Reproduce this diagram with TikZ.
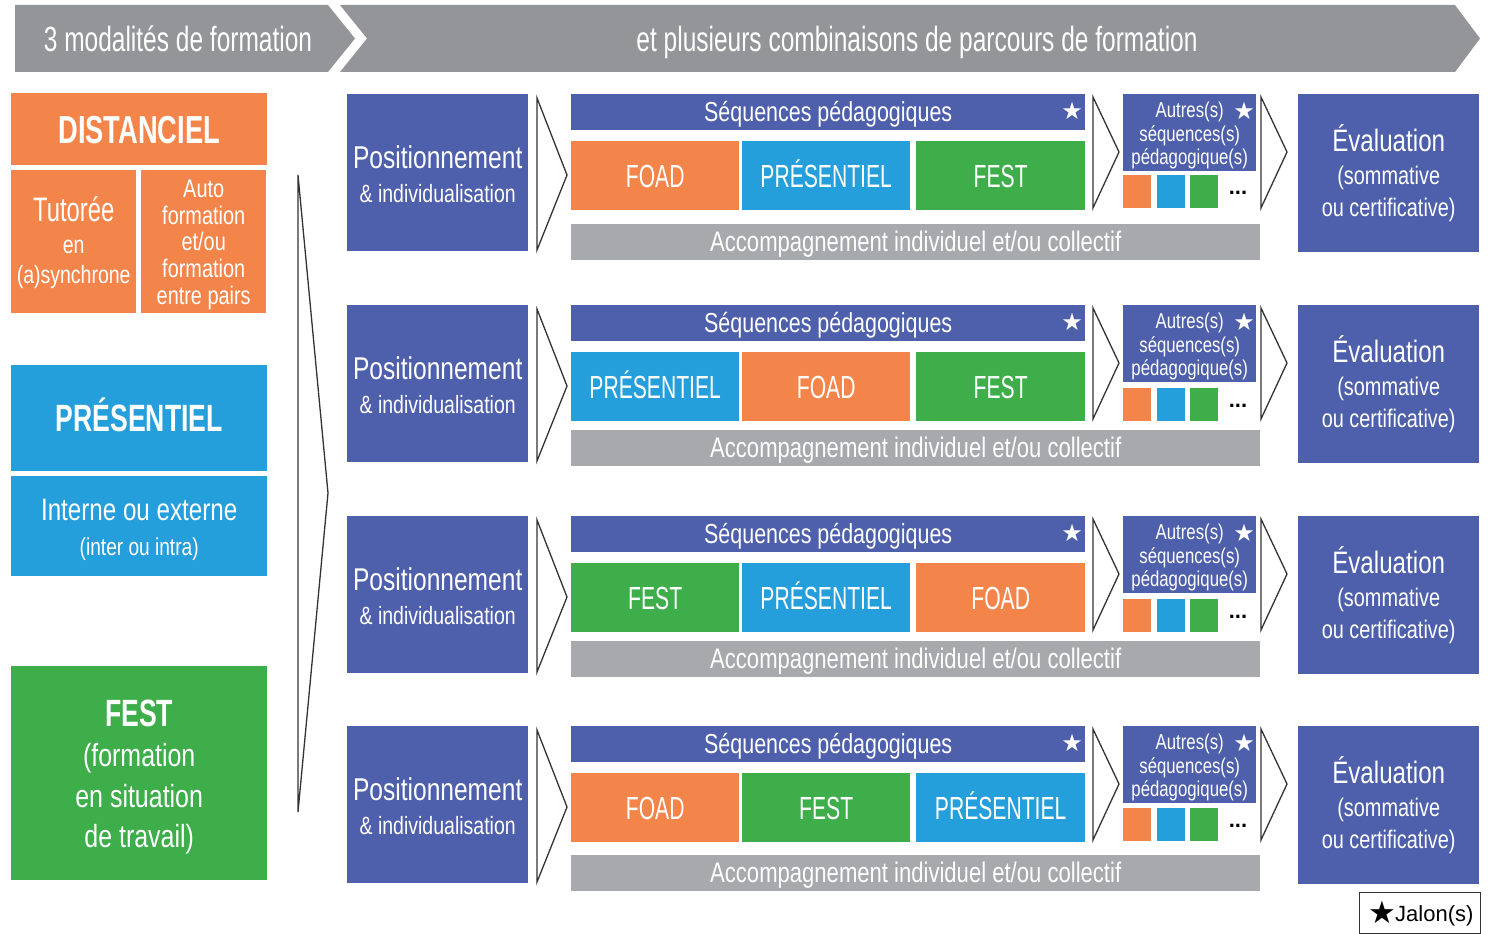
\documentclass[tikz,border=0pt]{standalone}
\usepackage{fontspec}
\setmainfont{Liberation Sans}[FakeStretch=0.78]
\newfontfamily\nrw{Liberation Sans}[FakeStretch=0.70]
\newfontfamily\capf{Liberation Sans}[FakeStretch=0.66]
\newfontfamily\plainf{Liberation Sans}
\newfontfamily\symf{DejaVu Sans}
\definecolor{cOr}{HTML}{F4854A}
\definecolor{cBl}{HTML}{259FDB}
\definecolor{cGr}{HTML}{3DAE4A}
\definecolor{cPu}{HTML}{4E5FAB}
\definecolor{cAc}{HTML}{A7A9AC}
\definecolor{cBan}{HTML}{939598}
\definecolor{cLine}{HTML}{333333}
\newcommand{\fsz}[2]{\fontsize{#1}{#2}\selectfont}
\tikzset{
  box/.style={anchor=north west, inner sep=0pt, text=white, align=center},
  txt/.style={inner sep=0pt, text=white, align=center},
  chev/.style={draw=cLine, line width=1.3pt, line join=miter},
}
\begin{document}
\begin{tikzpicture}[x=1pt,y=-1pt]
\useasboundingbox (0,0) rectangle (1494,934);
% banner
\fill[cBan] (15,5) -- (328,5) -- (355,38.5) -- (328,72) -- (15,72) -- cycle;
\fill[cBan] (340,5) -- (1455,5) -- (1480,38.5) -- (1455,72) -- (340,72) -- (367,38.5) -- cycle;
\node[txt, font=\nrw\fsz{35}{40}, text height=25pt, text depth=0pt] (ban1) at (178,39.5) {3 modalités de formation};
\node[txt, font=\nrw\fsz{35}{40}, text height=25pt, text depth=0pt] (ban2) at (917,39.5) {et plusieurs combinaisons de parcours de formation};
% left column
\node[box, fill=cOr, minimum width=256pt, minimum height=72pt, font=\nrw\bfseries\fsz{39}{40}, text height=28pt, text depth=0pt] (dist) at (11,93) {DISTANCIEL};
\node[box, fill=cOr, minimum width=125pt, minimum height=143pt] (tut) at (11,170) {};
\node[txt, font=\fsz{25}{33}] (tutT) at ([yshift=-1pt]tut.center) {{\nrw\fsz{34}{33}Tutorée}\\[-1pt]en\\[-3pt](a)synchrone};
\node[box, fill=cOr, minimum width=125pt, minimum height=143pt] (auto) at (141,170) {};
\node[txt, font=\fsz{25.5}{26.8}] (autoT) at ([yshift=-3pt]auto.center) {Auto\\formation\\et/ou\\formation\\entre pairs};
\node[box, fill=cBl, minimum width=256pt, minimum height=106pt, font=\nrw\bfseries\fsz{38}{40}, text height=27.5pt, text depth=0pt] (pres) at (11,365) {PRÉSENTIEL};
\node[box, fill=cBl, minimum width=256pt, minimum height=100pt] (int) at (11,476) {};
\node[txt, font=\fsz{24.5}{35}] (intT) at ([yshift=-4pt]int.center) {{\fsz{31}{35}Interne ou externe}\\(inter ou intra)};
\node[box, fill=cGr, minimum width=256pt, minimum height=214pt] (fest) at (11,666) {};
\node[txt, font=\fsz{32}{40.5}] (festT) at ([yshift=-4pt]fest.center) {{\nrw\bfseries\fsz{38}{40.5}FEST}\\(formation\\en situation\\de travail)};
% big chevron
\draw[chev] (298,175) -- (328,493) -- (298,812) -- cycle;
% rows
\foreach \r/\o/\ac/\sq/\la/\lb/\lc/\ca/\cb/\cc in {
  1/0/224/175/FOAD/PRÉSENTIEL/FEST/cOr/cBl/cGr,
  2/211/430/388/PRÉSENTIEL/FOAD/FEST/cBl/cOr/cGr,
  3/422/641/599/FEST/PRÉSENTIEL/FOAD/cGr/cBl/cOr,
  4/632/855/808/FOAD/FEST/PRÉSENTIEL/cOr/cGr/cBl}{
  \node[box, fill=cPu, minimum width=181pt, minimum height=157pt] (pos\r) at (347,94+\o) {};
  \node[txt, font=\fsz{25}{34}] (posT\r) at ([yshift=-1.5pt]pos\r.center) {{\fsz{31.5}{34}Positionnement}\\\& individualisation};
  \draw[chev] (537,98+\o) -- (567,175+\o) -- (537,250+\o) -- cycle;
  \node[box, fill=cPu, minimum width=514pt, minimum height=36pt, font=\fsz{27.5}{30}, text height=19.5pt, text depth=0pt] (seq\r) at (571,94+\o) {Séquences pédagogiques};
  \node[text=white, font=\symf\fsz{24}{24}, inner sep=0pt] (st\r) at (1072,111+\o) {★};
  \node[box, fill=\ca, minimum width=168pt, minimum height=69pt, font=\capf\fsz{32}{34}, text height=23pt, text depth=0pt] (ma\r) at (571,141+\o) {\la};
  \node[box, fill=\cb, minimum width=168pt, minimum height=69pt, font=\capf\fsz{32}{34}, text height=23pt, text depth=0pt] (mb\r) at (742,141+\o) {\lb};
  \node[box, fill=\cc, minimum width=169pt, minimum height=69pt, font=\capf\fsz{32}{34}, text height=23pt, text depth=0pt] (mc\r) at (916,141+\o) {\lc};
  \node[box, fill=cAc, minimum width=689pt, minimum height=35.5pt, font=\fsz{28.3}{30}, text height=20pt, text depth=0pt] (acc\r) at (571,\ac) {Accompagnement individuel et/ou collectif};
  \draw[chev] (1093,97+\o) -- (1119,152+\o) -- (1093,208+\o) -- cycle;
  \node[box, fill=cPu, minimum width=133pt, minimum height=77pt] (aut\r) at (1123,94+\o) {};
  \node[txt, font=\fsz{21.5}{23.3}] (autT\r) at ([yshift=-3pt]aut\r.center) {Autres(s)\\séquences(s)\\pédagogique(s)};
  \node[text=white, font=\symf\fsz{24}{24}, inner sep=0pt] (sa\r) at (1244,111+\o) {★};
  \node[box, fill=cOr, minimum width=28pt, minimum height=33pt] (qa\r) at (1123,\sq) {};
  \node[box, fill=cBl, minimum width=28pt, minimum height=33pt] (qb\r) at (1157,\sq) {};
  \node[box, fill=cGr, minimum width=28pt, minimum height=33pt] (qc\r) at (1190,\sq) {};
  \node[font=\plainf\bfseries\fsz{22}{22}, inner sep=0pt] (dt\r) at (1238,\sq+18) {...};
  \draw[chev] (1261,97+\o) -- (1287,152+\o) -- (1261,208+\o) -- cycle;
  \node[box, fill=cPu, minimum width=181pt, minimum height=158pt] (ev\r) at (1298,94+\o) {};
  \node[txt, font=\fsz{25.5}{32}] (evT\r) at ([yshift=0pt]ev\r.center) {{\fsz{31}{34}Évaluation}\\[1pt](sommative\\ou certificative)};
}
% legend
\node[draw=cLine, line width=0.8pt, anchor=north west, minimum width=121pt, minimum height=41pt, inner sep=0pt] (jal) at (1359,892) {};
\node[inner sep=0pt, font=\plainf\fsz{22}{24}] (jalT) at ([xshift=1pt, yshift=-1pt]jal.center) {\raisebox{-2pt}{\symf\fsz{31}{31}★}\hspace{-1pt}Jalon(s)};
\end{tikzpicture}
\end{document}
